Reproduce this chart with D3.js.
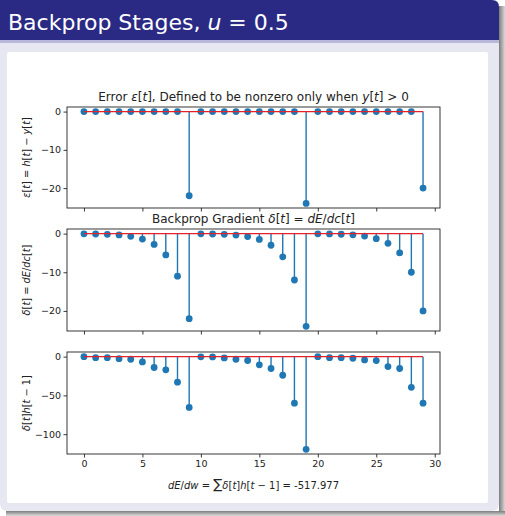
<!DOCTYPE html>
<html>
<head>
<meta charset="utf-8">
<script src="https://cdn.jsdelivr.net/npm/d3@7"></script>
<style>
  body { margin: 0; background: #fff; }
  svg { display: block; }
</style>
</head>
<body>
<div id="chart"></div>
<script>
/* global d3 */

// ---------- data ----------
const steps = d3.range(30);

// error eps[t], nonzero only when y[t] > 0
const errorVals = [0, 0, 0, 0, 0, 0, 0, 0, 0, -22,
                   0, 0, 0, 0, 0, 0, 0, 0, 0, -24,
                   0, 0, 0, 0, 0, 0, 0, 0, 0, -20];

// backprop gradient delta[t]
const gradVals = [-0.04, -0.09, -0.17, -0.34, -0.69, -1.4, -2.8, -5.5, -11, -22,
                  -0.05, -0.1, -0.19, -0.38, -0.75, -1.5, -3, -6, -12, -24,
                  -0.04, -0.08, -0.16, -0.31, -0.63, -1.3, -2.5, -5, -10, -20];

// delta[t] h[t-1]
const contribVals = [0, -1.3, -1.3, -2.6, -3.4, -6.8, -14, -17, -33, -65.5,
                     -0.2, -0.4, -1.7, -3.4, -5, -10.6, -15.3, -24, -60, -119.6,
                     0, -1.3, -1.3, -2.1, -4.3, -5.1, -12.8, -15.3, -39.6, -60];

const xTicks = [0, 5, 10, 15, 20, 25, 30];
const errTicks = [0, -10, -20];
const gradTicks = [0, -10, -20];
const contribTicks = [0, -50, -100];

/* -----------------    SETTINGS     ------------------ */

const W = 505, H = 516;
const plotLeft = 67, plotRight = 440;
const colStem = '#1f77b4';
const colBase = '#e3232b';
const colInk = '#222';
const mathFont = '"DejaVu Sans", sans-serif';

const svg = d3.select('#chart').append('svg')
  .attr('width', W)
  .attr('height', H);

/* -----------------    SLIDE FRAME     ------------------ */

// shadow on the right and bottom
const defs = svg.append('defs');
const shadeR = defs.append('linearGradient')
  .attr('id', 'shadeR').attr('x1', 0).attr('x2', 1).attr('y1', 0).attr('y2', 0);
shadeR.append('stop').attr('offset', 0).attr('stop-color', '#7d7d7d');
shadeR.append('stop').attr('offset', 1).attr('stop-color', '#d8d8d8');
const shadeB = defs.append('linearGradient')
  .attr('id', 'shadeB').attr('x1', 0).attr('x2', 0).attr('y1', 0).attr('y2', 1);
shadeB.append('stop').attr('offset', 0).attr('stop-color', '#7d7d7d');
shadeB.append('stop').attr('offset', 1).attr('stop-color', '#dcdcdc');

svg.append('rect').attr('x', 499).attr('y', 6).attr('width', 6).attr('height', 510)
  .attr('fill', 'url(#shadeR)');
svg.append('rect').attr('x', 6).attr('y', 511).attr('width', 499).attr('height', 5)
  .attr('fill', 'url(#shadeB)');

// block body
svg.append('path')
  .attr('d', 'M0,38 H499 V503 Q499,511 491,511 H8 Q0,511 0,503 Z')
  .attr('fill', '#e7e7f2');

// title bar
svg.append('path')
  .attr('d', 'M0,0 H492 Q499,0 499,7 V40 H0 Z')
  .attr('fill', '#2a2a85');
svg.append('rect').attr('x', 0).attr('y', 40).attr('width', 499).attr('height', 3)
  .attr('fill', '#9a9acb').attr('opacity', 0.6);

const title = svg.append('text')
  .attr('x', 8).attr('y', 30)
  .attr('font-family', '"DejaVu Sans", sans-serif')
  .attr('font-size', 22)
  .attr('fill', '#fff');
title.append('tspan').text('Backprop Stages, ');
title.append('tspan').attr('font-style', 'italic').text('u');
title.append('tspan').text(' = 0.5');

// white panel holding the figure
svg.append('rect')
  .attr('x', 7).attr('y', 52).attr('width', 481).attr('height', 451)
  .attr('rx', 2)
  .attr('fill', '#fff');

/* -----------------    MATH TEXT HELPER     ------------------ */

// parts: [text, italic?, fontScale?]
const mathText = (sel, parts) => {
  parts.forEach(([str, ital, scale]) => {
    const ts = sel.append('tspan').text(str);
    if (ital) ts.attr('font-style', 'italic');
    if (scale) ts.attr('font-size', `${scale}em`);
  });
  return sel;
};

/* -----------------    PANELS     ------------------ */

const x = d3.scaleLinear()
  .domain([d3.min(steps) - 0.05 * (d3.max(steps) - d3.min(steps)),
           d3.max(steps) + 0.05 * (d3.max(steps) - d3.min(steps))])
  .range([plotLeft, plotRight]);

const panels = [
  { values: errorVals, ticks: errTicks, top: 107, bottom: 208,
    title: [['Error ', false], ['ε', true], ['[', false], ['t', true], ['], Defined to be nonzero only when ', false],
            ['y', true], ['[', false], ['t', true], [']', false], [' > 0', false]],
    ylabel: [['ε', true], ['[', false], ['t', true], ['] = ', false], ['h', true], ['[', false], ['t', true],
             ['] − ', false], ['y', true], ['[', false], ['t', true], [']', false]] },
  { values: gradVals, ticks: gradTicks, top: 229, bottom: 331,
    title: [['Backprop Gradient ', false], ['δ', true], ['[', false], ['t', true], ['] = ', false],
            ['dE', true], ['/', false], ['dc', true], ['[', false], ['t', true], [']', false]],
    ylabel: [['δ', true], ['[', false], ['t', true], ['] = ', false], ['dE', true], ['/', false],
             ['dc', true], ['[', false], ['t', true], [']', false]] },
  { values: contribVals, ticks: contribTicks, top: 352, bottom: 454,
    title: null,
    ylabel: [['δ', true], ['[', false], ['t', true], [']', false], ['h', true], ['[', false], ['t', true],
             [' − 1]', false]] }
];

const fmtTick = d => (d < 0 ? '\u2212' + Math.abs(d) : String(d));

panels.forEach((p, i) => {
  const lo = Math.min(0, d3.min(p.values));
  const hi = Math.max(0, d3.max(p.values));
  const pad = 0.05 * (hi - lo);
  const y = d3.scaleLinear().domain([lo - pad, hi + pad]).range([p.bottom, p.top]);

  const g = svg.append('g');

  // stems
  g.selectAll('.stem')
    .data(steps)
    .enter().append('line')
    .attr('class', 'stem')
    .attr('x1', t => x(t)).attr('x2', t => x(t))
    .attr('y1', y(0)).attr('y2', t => y(p.values[t]))
    .attr('stroke', colStem)
    .attr('stroke-width', 1.4);

  // markers
  g.selectAll('.dot')
    .data(steps)
    .enter().append('circle')
    .attr('class', 'dot')
    .attr('cx', t => x(t))
    .attr('cy', t => y(p.values[t]))
    .attr('r', 3.4)
    .attr('fill', colStem);

  // baseline
  g.append('line')
    .attr('x1', x(d3.min(steps))).attr('x2', x(d3.max(steps)))
    .attr('y1', y(0)).attr('y2', y(0))
    .attr('stroke', colBase)
    .attr('stroke-width', 1.4);

  // frame
  g.append('rect')
    .attr('x', plotLeft).attr('y', p.top)
    .attr('width', plotRight - plotLeft).attr('height', p.bottom - p.top)
    .attr('fill', 'none')
    .attr('stroke', colInk)
    .attr('stroke-width', 0.9);

  // y axis
  const yAxis = g.append('g')
    .attr('transform', `translate(${plotLeft},0)`)
    .call(d3.axisLeft(y).tickValues(p.ticks).tickSize(3.5).tickPadding(2.5).tickFormat(fmtTick));
  yAxis.select('.domain').remove();
  yAxis.selectAll('line').attr('stroke', colInk).attr('stroke-width', 0.9);
  yAxis.selectAll('text')
    .attr('font-family', mathFont).attr('font-size', 9.5).attr('fill', colInk);

  // x axis (labels only on the last panel)
  const last = i === panels.length - 1;
  const xAxis = g.append('g')
    .attr('transform', `translate(0,${p.bottom})`)
    .call(d3.axisBottom(x).tickValues(xTicks).tickSize(3.5).tickPadding(2.5)
      .tickFormat(last ? d3.format('d') : ''));
  xAxis.select('.domain').remove();
  xAxis.selectAll('line').attr('stroke', colInk).attr('stroke-width', 0.9);
  xAxis.selectAll('text')
    .attr('font-family', mathFont).attr('font-size', 9.5).attr('fill', colInk);

  // title
  if (p.title) {
    mathText(g.append('text')
      .attr('x', (plotLeft + plotRight) / 2).attr('y', p.top - 6)
      .attr('text-anchor', 'middle')
      .attr('font-family', mathFont).attr('font-size', 12)
      .attr('fill', colInk), p.title);
  }

  // y label
  mathText(g.append('text')
    .attr('transform', `translate(30,${(p.top + p.bottom) / 2}) rotate(-90)`)
    .attr('text-anchor', 'middle')
    .attr('font-family', mathFont).attr('font-size', 9.8)
    .attr('fill', colInk), p.ylabel);
});

// x label
mathText(svg.append('text')
  .attr('x', (plotLeft + plotRight) / 2).attr('y', 489)
  .attr('text-anchor', 'middle')
  .attr('font-family', mathFont).attr('font-size', 10)
  .attr('fill', colInk),
  [['dE', true], ['/', false], ['dw', true], [' = ', false], ['∑', false, 1.35], ['δ', true], ['[', false], ['t', true],
   [']', false], ['h', true], ['[', false], ['t', true], [' − 1] = -517.977', false]]);
</script>
</body>
</html>
